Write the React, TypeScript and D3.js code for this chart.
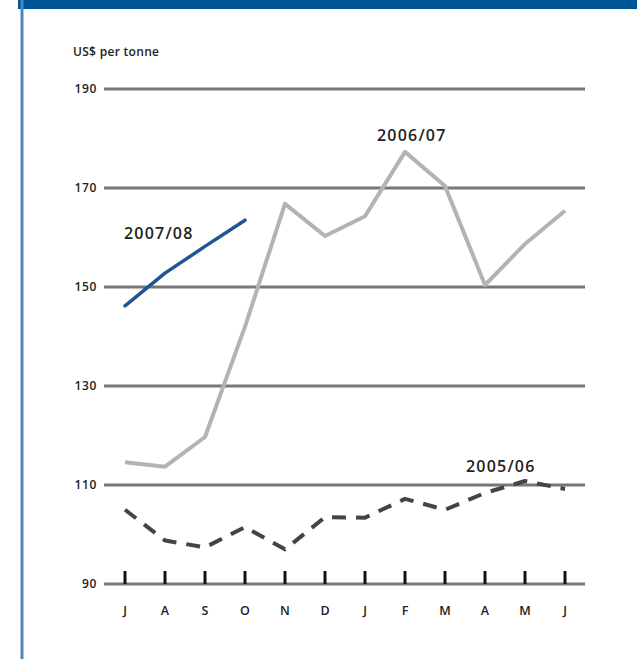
import React from "react";
import * as d3 from "d3";

const months = ["J", "A", "S", "O", "N", "D", "J", "F", "M", "A", "M", "J"];
const yTicks = [90, 110, 130, 150, 170, 190];
const season0506 = [105, 98.8, 97.4, 101.5, 97, 103.5, 103.4, 107.2, 105, 108.4, 110.8, 109.2];
const season0607 = [114.6, 113.7, 119.7, 142, 166.8, 160.3, 164.3, 177.3, 170.4, 150.4, 158.7, 165.4];
const season0708 = [146.2, 152.8, 158.2, 163.5];

const W = 637;
const H = 659;
const font = "'Open Sans', 'DejaVu Sans', sans-serif";

export default function App() {
  const x = d3.scalePoint<number>().domain(d3.range(12)).range([125, 565]);
  const y = d3.scaleLinear().domain([90, 190]).range([584, 89]);
  const line = d3
    .line<number>()
    .x((_, i) => x(i) as number)
    .y((d) => y(d));

  const labelStyle = {
    fontFamily: font,
    fontSize: 16,
    fontWeight: 600,
    letterSpacing: 1.2,
    fill: "#222",
  } as const;

  return (
    <svg
      width={W}
      height={H}
      style={{ position: "absolute", left: 0, top: 0, background: "#fff" }}
    >
      {/* frame */}
      <rect x={18} y={0} width={W - 18} height={9} fill="#005597" />
      <line x1={22} x2={22} y1={0} y2={H} stroke="#4f86b8" strokeWidth={3} />

      <text
        x={73}
        y={56}
        fontFamily={font}
        fontSize={12}
        fontWeight={600}
        letterSpacing={0.3}
        fill="#222"
      >
        US$ per tonne
      </text>

      {/* gridlines */}
      {yTicks.map((t) => (
        <g key={t}>
          <line x1={104} x2={585} y1={y(t)} y2={y(t)} stroke="#777" strokeWidth={3} />
          <text
            x={97}
            y={y(t)}
            dy="0.35em"
            textAnchor="end"
            fontFamily={font}
            fontSize={12}
            fontWeight={600}
            letterSpacing={0.6}
            fill="#222"
          >
            {t}
          </text>
        </g>
      ))}

      {/* month ticks */}
      {months.map((m, i) => (
        <g key={i}>
          <line
            x1={x(i)}
            x2={x(i)}
            y1={y(90) - 13}
            y2={y(90)}
            stroke="#111"
            strokeWidth={3}
          />
          <text
            x={x(i)}
            y={615}
            textAnchor="middle"
            fontFamily={font}
            fontSize={12.5}
            fontWeight={600}
            fill="#222"
          >
            {m}
          </text>
        </g>
      ))}

      {/* series */}
      <path
        d={line(season0506) || ""}
        fill="none"
        stroke="#444"
        strokeWidth={4}
        strokeDasharray="14 10"
        strokeLinejoin="round"
      />
      <path
        d={line(season0607) || ""}
        fill="none"
        stroke="#b3b3b3"
        strokeWidth={4}
        strokeLinejoin="round"
      />
      <path
        d={line(season0708) || ""}
        fill="none"
        stroke="#1f5597"
        strokeWidth={3.5}
        strokeLinejoin="round"
        strokeLinecap="round"
      />

      {/* series labels */}
      <text x={124} y={239} {...labelStyle}>
        2007/08
      </text>
      <text x={377} y={141} {...labelStyle}>
        2006/07
      </text>
      <text x={466} y={472} {...labelStyle}>
        2005/06
      </text>
    </svg>
  );
}
